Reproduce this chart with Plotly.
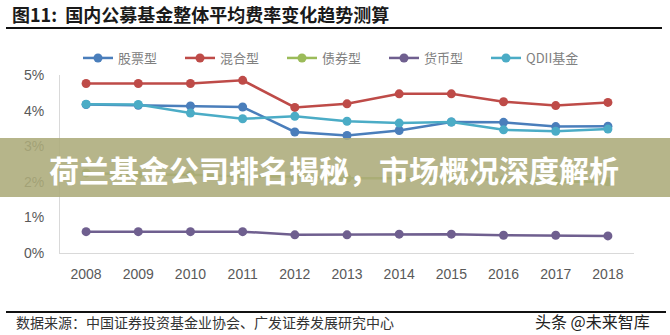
import plotly.graph_objects as go

# Average fee rate (%) of public funds by type, 2008-2018
years = ["2008", "2009", "2010", "2011", "2012", "2013", "2014", "2015", "2016", "2017", "2018"]
stock = [4.17, 4.15, 4.13, 4.10, 3.40, 3.30, 3.44, 3.68, 3.67, 3.55, 3.56]
mixed = [4.76, 4.76, 4.76, 4.85, 4.09, 4.19, 4.47, 4.47, 4.25, 4.14, 4.23]
bond = [2.25, 2.20, 2.20, 2.15, 2.15, 2.10, 2.10, 2.10, 2.05, 2.00, 2.00]
money = [0.60, 0.60, 0.60, 0.60, 0.51, 0.51, 0.53, 0.53, 0.50, 0.50, 0.48]
qdii = [4.18, 4.17, 3.93, 3.77, 3.84, 3.70, 3.65, 3.68, 3.46, 3.42, 3.48]

series_names = ["股票型", "混合型", "债券型", "货币型", "QDII基金"]
series_values = [stock, mixed, bond, money, qdii]
series_colors = ["#4A7EBB", "#BE4B48", "#9BBB59", "#6F5F8F", "#4BACC6"]

W, H = 670, 335
L, R, T, B = 60, 36, 75, 82
pw, ph = W - L - R, H - T - B


def px(x):
    return (x - L) / pw


def py(y):
    return (H - B - y) / ph


fig = go.Figure()
for name, vals, col in zip(series_names, series_values, series_colors):
    fig.add_trace(go.Scatter(
        x=years, y=vals, name=name, mode="lines+markers",
        line=dict(color=col, width=2.5),
        marker=dict(color=col, size=9),
    ))

cjk = "Noto Sans CJK SC"
tick_font = dict(family="Liberation Sans, Arial", size=14, color="#595959")
fig.update_layout(
    width=W, height=H,
    margin=dict(l=L, r=R, t=T, b=B),
    paper_bgcolor="white", plot_bgcolor="white",
    showlegend=True,
    legend=dict(
        orientation="h", x=px(78), xanchor="left", y=py(58), yanchor="middle",
        font=dict(family=cjk, size=13, color="#808080"),
        entrywidth=57, entrywidthmode="pixels", bgcolor="rgba(0,0,0,0)",
    ),
    xaxis=dict(
        type="category", range=[-0.5, 10.5], showgrid=False, zeroline=False,
        showline=True, linecolor="#D9D9D9", linewidth=1, ticks="",
        tickfont=tick_font, ticklabelstandoff=8,
    ),
    yaxis=dict(
        range=[0, 5], dtick=1, ticksuffix="%", showgrid=False, zeroline=False,
        showline=True, linecolor="#D9D9D9", linewidth=1, ticks="",
        tickfont=tick_font, ticklabelstandoff=12,
    ),
)

shapes = [
    # rule under the heading
    dict(type="line", xref="paper", yref="paper", x0=px(6), x1=px(662), y0=py(28), y1=py(28),
         line=dict(color="#111111", width=2), layer="above"),
    # rule above the source note
    dict(type="line", xref="paper", yref="paper", x0=px(6), x1=px(666), y0=py(312), y1=py(312),
         line=dict(color="#111111", width=2), layer="above"),
    # headline banner across the chart
    dict(type="rect", xref="paper", yref="paper", x0=px(0), x1=px(670), y0=py(197), y1=py(138),
         fillcolor="rgba(172,171,122,0.88)", line=dict(width=0), layer="above"),
]
fig.update_layout(shapes=shapes)

annotations = [
    dict(text="<b>图11:  国内公募基金整体平均费率变化趋势测算</b>", xref="paper", yref="paper",
         x=px(10), y=py(14), xanchor="left", yanchor="middle", showarrow=False,
         font=dict(family=cjk, size=18, color="#1a1a1a")),
    dict(text="<b>荷兰基金公司排名揭秘，市场概况深度解析</b>", xref="paper", yref="paper",
         x=px(334), y=py(169), xanchor="center", yanchor="middle", showarrow=False,
         font=dict(family=cjk, size=30, color="#FFFFFF")),
    dict(text="数据来源：中国证券投资基金业协会、广发证券发展研究中心", xref="paper", yref="paper",
         x=px(14), y=py(322), xanchor="left", yanchor="middle", showarrow=False,
         font=dict(family=cjk, size=14, color="#333333")),
    dict(text="头条 @未来智库", xref="paper", yref="paper",
         x=px(652), y=py(321), xanchor="right", yanchor="middle", showarrow=False,
         font=dict(family=cjk, size=16, color="#222222")),
]
fig.update_layout(annotations=annotations)

fig.write_html("out.html")
